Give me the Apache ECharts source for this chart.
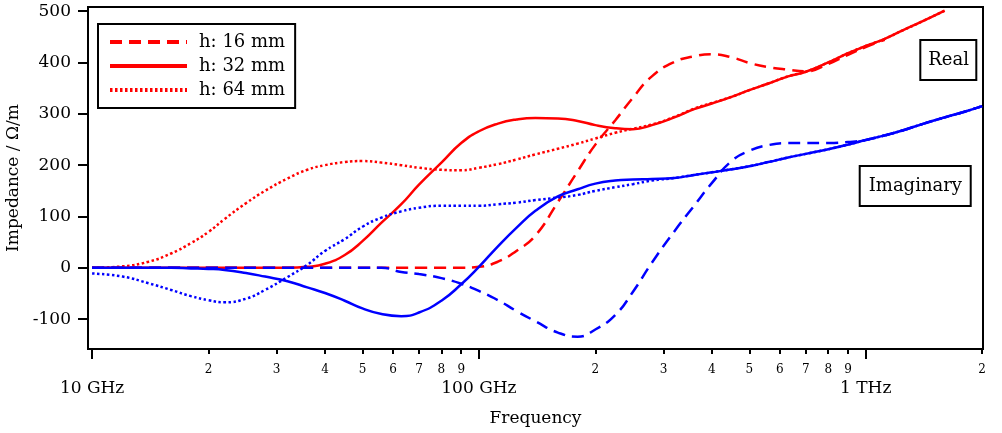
<!DOCTYPE html>
<html>
<head>
<meta charset="utf-8">
<title>Impedance</title>
<style>
  html, body { margin: 0; padding: 0; background: #fff; }
  #chart { width: 1002px; height: 433px; }
</style>
<script src="https://cdn.jsdelivr.net/npm/echarts@6/dist/echarts.min.js"></script>
</head>
<body>
<div id="chart"></div>
<script>
// frequencies in GHz
var freqGHz = [10, 12, 14, 16, 18, 20, 22, 25, 28, 32, 36, 40, 45, 50, 56, 63, 70, 80, 90, 100,
  112, 125, 140, 160, 180, 200, 225, 250, 280, 320, 360, 400, 450, 500, 560, 630, 700, 800, 900, 1000,
  1120, 1250, 1400, 1600, 1800, 2000];

// real part (Ω/m)
var re16 = [0, 0, 0, 0, 0, 0, 0, 0, 0, 0, 0, 0, 0, 0, 0, 0, 0, 0, 0, 2,
  12, 33, 63, 128, 188, 240, 287, 331, 373, 401, 412, 416, 410, 399, 391, 386, 383, 397, 415, 430,
  444, null, null, null, null, null];
var re32 = [0, 0, 0, 0, 0, 0, 0, 0, 0, 0, 2, 8, 25, 52, 88, 124, 162, 205, 243, 266,
  281, 289, 292, 291, 286, 278, 272, 270, 278, 293, 309, 320, 333, 346, 359, 373, 382, 400, 418, 432,
  446, 463, 480, 501, null, null];
var re64 = [0, 3, 12, 28, 48, 70, 95, 126, 150, 174, 191, 200, 206, 208, 205, 200, 195, 191, 190, 195,
  202, 211, 221, 232, 242, 252, 263, 271, 279, 294, 310, 321, 333, 346, 359, 373, 382, 400, 418, 432,
  446, 463, 480, 501, null, null];

// imaginary part (Ω/m)
var im16 = [0, 0, 0, 0, 0, 0, 0, 0, 0, 0, 0, 0, 0, 0, 0, -8, -12, -20, -31, -45,
  -63, -84, -104, -126, -134, -120, -92, -47, 10, 71, 121, 165, 208, 228, 239, 243, 243, 243, 245, 249,
  258, 268, 280, 293, 304, 315];
var im32 = [0, 0, 0, 0, -1, -2, -4, -10, -17, -26, -38, -49, -64, -79, -90, -94, -87, -64, -32, 2,
  42, 78, 111, 139, 153, 164, 170, 172, 173, 175, 181, 186, 192, 198, 206, 215, 222, 231, 240, 249,
  258, 268, 280, 293, 304, 315];
var im64 = [-11, -17, -30, -43, -55, -63, -67, -60, -43, -18, 6, 33, 56, 80, 98, 110, 117, 121, 121, 121,
  124, 127, 132, 137, 142, 150, 157, 163, 170, 175, 181, 186, 192, 198, 206, 215, 222, 231, 240, 249,
  258, 268, 280, 293, 304, 315];

var seriesNames = ['h: 16 mm', 'h: 32 mm', 'h: 64 mm'];
var minorTicks = [20, 30, 40, 50, 60, 70, 80, 90, 200, 300, 400, 500, 600, 700, 800, 900, 2000];
var decadeTicks = [10, 100, 1000];
var decadeLabels = ['10 GHz', '100 GHz', '1 THz'];
var yTicks = [-100, 0, 100, 200, 300, 400, 500];

var FONT = 'DejaVu Serif';
var dashes = [[12, 7], 'solid', [2.5, 2.5]];

function pairs(vals) {
  var out = [];
  for (var i = 0; i < freqGHz.length; i++) {
    if (vals[i] !== null) out.push([freqGHz[i], vals[i]]);
  }
  return out;
}

function makeSeries(name, vals, color, dash) {
  return {
    name: name,
    type: 'line',
    data: pairs(vals),
    smooth: true,
    symbol: 'none',
    lineStyle: { color: color, width: 2.5, type: dash, cap: 'butt' },
    itemStyle: { color: color }
  };
}

var series = [
  makeSeries(seriesNames[0], re16, '#ff0000', dashes[0]),
  makeSeries(seriesNames[1], re32, '#ff0000', dashes[1]),
  makeSeries(seriesNames[2], re64, '#ff0000', dashes[2]),
  makeSeries(seriesNames[0], im16, '#0000ff', dashes[0]),
  makeSeries(seriesNames[1], im32, '#0000ff', dashes[1]),
  makeSeries(seriesNames[2], im64, '#0000ff', dashes[2])
];

var axisLine = { show: true, onZero: false, lineStyle: { color: '#000', width: 2 } };
var tickStyle = { color: '#000', width: 2 };

var chart = echarts.init(document.getElementById('chart'));

var option = {
  animation: false,
  backgroundColor: '#fff',
  textStyle: { fontFamily: FONT },
  grid: {
    left: 88, right: 19, top: 7, bottom: 84,
    outerBoundsMode: 'none',
    show: true, borderColor: '#000', borderWidth: 2
  },
  title: [
    {
      text: 'Real', right: 25, top: 40,
      borderColor: '#000', borderWidth: 2, padding: [10, 8],
      textStyle: { fontSize: 18, fontWeight: 'normal', fontFamily: FONT, color: '#000', lineHeight: 20 }
    },
    {
      text: 'Imaginary', right: 31, top: 166,
      borderColor: '#000', borderWidth: 2, padding: [10, 9],
      textStyle: { fontSize: 18, fontWeight: 'normal', fontFamily: FONT, color: '#000', lineHeight: 20 }
    }
  ],
  legend: {
    orient: 'vertical',
    left: 98, top: 24,
    data: seriesNames,
    borderColor: '#000', borderWidth: 2, borderRadius: 0,
    padding: [8, 10, 8, 10],
    itemWidth: 77, itemHeight: 14, itemGap: 4,
    lineStyle: { width: 4 },
    itemStyle: { opacity: 0 },
    textStyle: { fontSize: 18, fontFamily: FONT, color: '#000', lineHeight: 20, padding: [0, 0, 0, 7] }
  },
  xAxis: [
    {
      type: 'log', logBase: 10, min: 9.76, max: 2010, position: 'bottom',
      axisLine: axisLine,
      axisTick: { show: true, customValues: minorTicks, length: 5, lineStyle: tickStyle },
      axisLabel: {
        customValues: minorTicks, fontSize: 12, margin: 15, color: '#000', fontFamily: FONT,
        formatter: function (v) {
          var p = Math.pow(10, Math.floor(Math.log10(v) + 1e-9));
          return String(Math.round(v / p));
        }
      },
      splitLine: { show: false }
    },
    {
      type: 'log', logBase: 10, min: 9.76, max: 2010, position: 'bottom',
      axisLine: { show: false, onZero: false },
      axisTick: { show: true, customValues: decadeTicks, length: 10, lineStyle: tickStyle },
      axisLabel: {
        customValues: decadeTicks, fontSize: 17, margin: 31, color: '#000', fontFamily: FONT,
        formatter: function (v) {
          return decadeLabels[Math.round(Math.log10(v)) - 1];
        }
      },
      splitLine: { show: false },
      name: 'Frequency', nameLocation: 'middle', nameGap: 61,
      nameTextStyle: { fontSize: 17, color: '#000', fontFamily: FONT }
    }
  ],
  yAxis: {
    type: 'value', min: -158, max: 508,
    axisLine: axisLine,
    axisTick: { show: true, customValues: yTicks, length: 10, lineStyle: tickStyle },
    axisLabel: { customValues: yTicks, fontSize: 17, margin: 17, color: '#000', fontFamily: FONT },
    splitLine: { show: false },
    name: 'Impedance / Ω/m', nameLocation: 'middle', nameGap: 65, nameRotate: 90,
    nameTextStyle: { fontSize: 17, color: '#000', fontFamily: FONT }
  },
  series: series
};

chart.setOption(option);
</script>
</body>
</html>
